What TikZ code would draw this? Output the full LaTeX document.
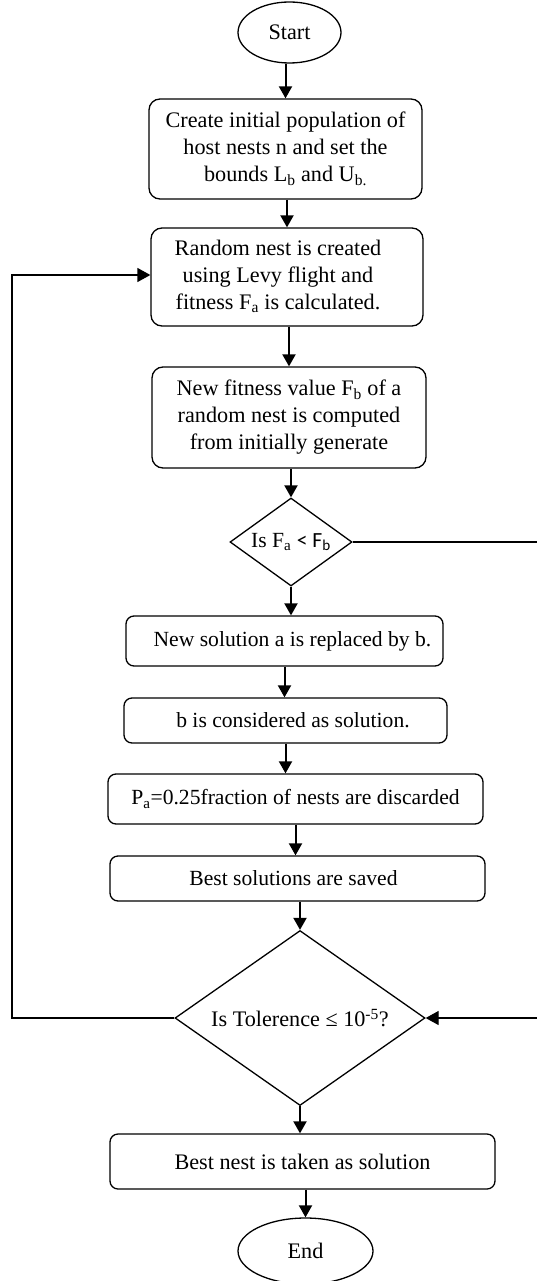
\documentclass[tikz,border=0pt]{standalone}
\usepackage{fontspec}
\setmainfont{Liberation Serif}
\newfontfamily\carlito{Carlito}
\usetikzlibrary{shapes.geometric,arrows.meta}
\tikzset{
  every node/.style={font=\fontsize{22.2}{27}\selectfont, text=black},
  smallfont/.style={font=\fontsize{21.6}{27}\selectfont},
  bigbox/.style={draw, line width=1.3pt, rounded corners=11pt, inner sep=0pt, align=center},
  smallbox/.style={draw, line width=1.3pt, rounded corners=8pt, inner sep=0pt, align=center},
  term/.style={draw, ellipse, line width=1.3pt, inner sep=0pt},
  decide/.style={draw, diamond, line width=1.3pt, inner sep=0pt},
  flow/.style={line width=2pt, -{Triangle[length=12pt,width=13pt]}},
  looparrow/.style={line width=1.3pt, -{Triangle[length=13pt,width=14pt]}}
}
\begin{document}
\begin{tikzpicture}[x=1pt,y=-1pt]
\useasboundingbox (0,0) rectangle (536,1281);
\node[term, minimum width=103pt, minimum height=61pt] (start) at (289.5,32.5) {Start};
\node[bigbox, minimum width=273pt, minimum height=100pt] (b1) at (285.5,149)
  {Create initial population of\\host nests n and set the\\bounds L\textsubscript{b} and U\textsubscript{b.}};
\node[bigbox, minimum width=272pt, minimum height=98pt] (b2) at (287,277)
  {\begin{tabular}{@{}c@{\hspace{18pt}}}Random nest is created\\using Levy flight and\\fitness F\textsubscript{a} is calculated.\end{tabular}};
\node[bigbox, minimum width=274pt, minimum height=101pt] (b3) at (289,417.5)
  {New fitness value F\textsubscript{b} of a\\random nest is computed\\from initially generate};
\node[decide, minimum width=122pt, minimum height=88pt, shape aspect=1.39, smallfont] (d1) at (291,542)
  {Is F\textsubscript{a} {\carlito < F\textsubscript{b}}};
\node[smallbox, minimum width=317pt, minimum height=50pt, smallfont] (b4) at (284.5,641)
  {\hspace*{16pt}New solution a is replaced by b.};
\node[smallbox, minimum width=323pt, minimum height=45pt, smallfont] (b5) at (285.5,720.5)
  {\hspace*{15pt}b is considered as solution.};
\node[smallbox, minimum width=375pt, minimum height=50pt, smallfont] (b6) at (295.5,799)
  {P\textsubscript{a}=0.25fraction of nests are discarded};
\node[smallbox, minimum width=375pt, minimum height=45pt, smallfont] (b7) at (297.5,878.5)
  {Best solutions are saved\hspace*{8pt}};
\node[decide, minimum width=250pt, minimum height=175pt, shape aspect=1.43] (d2) at (300,1018)
  {Is Tolerence ≤ 10\textsuperscript{-5}?};
\node[smallbox, minimum width=385pt, minimum height=55pt] (b8) at (302.5,1161.5)
  {Best nest is taken as solution};
\node[term, minimum width=135pt, minimum height=66pt] (end) at (305.5,1251) {End};
\coordinate (rtop) at (539,542);
\coordinate (rbot) at (539,1018);
\coordinate (lbot) at (12,1018);
\coordinate (ltop) at (12,275);
\draw[flow] (start.south -| b1.north) -- (b1.north);
\draw[flow] (b1.south -| b2.north) -- (b2.north);
\draw[flow] (b2.south -| b3.north) -- (b3.north);
\draw[flow] (b3.south -| d1.north) -- (d1.north);
\draw[flow] (d1.south) -- (d1.south |- b4.north);
\draw[flow] (b4.south) -- (b4.south |- b5.north);
\draw[flow] (b5.south) -- (b5.south |- b6.north);
\draw[flow] (b6.south) -- (b6.south |- b7.north);
\draw[flow] (b7.south -| d2.north) -- (d2.north);
\draw[flow] (d2.south) -- (d2.south |- b8.north);
\draw[flow] (b8.south -| end.north) -- (end.north);
\draw[looparrow] (d1.east) -- (rtop) -- (rbot) -- (d2.east);
\draw[looparrow] (d2.west) -- (lbot) -- (ltop) -- (ltop -| b2.west);
\end{tikzpicture}
\end{document}
